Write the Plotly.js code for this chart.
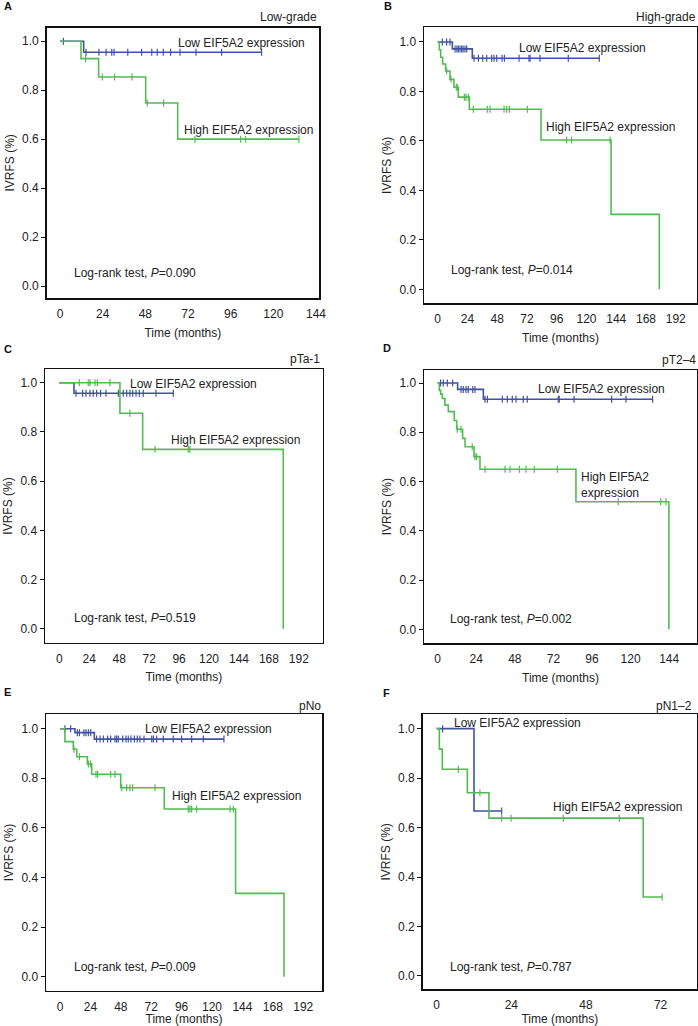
<!DOCTYPE html>
<html>
<head>
<meta charset="utf-8">
<script src="https://cdn.plot.ly/plotly-3.0.1.min.js"></script>
<style>html,body{margin:0;padding:0;background:#fff;}#chart{width:698px;height:1026px;}</style>
</head>
<body>
<div id="chart"></div>
<script>
// ---------- DATA ----------
// Panel A: Low-grade
const aLowTimes = [13.3];
const aLowSurv = [0.955];
const aLowCens = [1.9, 14.6, 21.9, 25.9, 29.1, 30.4, 38.1, 45.9, 51.6, 54.7, 58.1, 62.2, 67.5, 76.5, 90.9, 113.4];
const aHighTimes = [11.8, 21.7, 48.2, 66.2];
const aHighSurv = [0.929, 0.854, 0.748, 0.60];
const aHighCens = [14.4, 23.8, 30.7, 40.5, 49.1, 58.3, 75.9, 101.6, 104.4, 134.4];

// Panel B: High-grade
const bLowTimes = [11.8, 27.9];
const bLowSurv = [0.972, 0.934];
const bLowCens = [3.7, 7.2, 9.9, 14.0, 15.5, 16.6, 18.0, 19.3, 20.5, 22.0, 23.4, 29.3, 32.8, 36.3, 39.5, 43.5, 45.4, 47.6, 51.9, 53.8, 65.6, 73.6, 74.5, 82.5, 105.3, 130.3];
const bHighTimes = [1.3, 2.4, 4.0, 6.4, 9.9, 13.1, 16.6, 25.5, 83.3, 139.8, 178.7];
const bHighSurv = [0.968, 0.938, 0.911, 0.883, 0.849, 0.817, 0.777, 0.728, 0.604, 0.303, 0];
const bHighCens = [7.2, 10.7, 15.0, 15.8, 21.5, 22.8, 24.7, 28.7, 40.0, 42.2, 53.5, 55.6, 57.8, 72.3, 104.0, 108.0, 139.0];

// Panel C: pTa-1
const cLowTimes = [11.8];
const cLowSurv = [0.957];
const cLowCens = [13.4, 18.7, 21.4, 24.6, 27.2, 29.9, 33.1, 37.4, 47.3, 51.3, 54.0, 56.6, 58.8, 61.5, 64.1, 67.3, 77.5, 91.4];
const cHighTimes = [48.6, 66.8, 179.5];
const cHighSurv = [0.876, 0.729, 0];
const cHighCens = [16.0, 23.2, 24.6, 28.6, 30.5, 40.6, 56.6, 76.7, 103.4, 104.7];

// Panel D: pT2-4
const dLowTimes = [12.4, 28.4];
const dLowSurv = [0.974, 0.934];
const dLowCens = [1.8, 3.5, 6.0, 9.3, 14.5, 15.9, 17.6, 19.0, 21.8, 23.2, 29.4, 30.9, 40.2, 43.3, 46.4, 48.7, 53.2, 55.7, 75.0, 75.6, 84.8, 108.2, 117.1, 133.7];
const dHighTimes = [1.0, 1.8, 2.9, 4.5, 6.6, 10.3, 11.8, 15.5, 17.0, 22.6, 26.3, 86.0, 143.8];
const dHighSurv = [0.97, 0.955, 0.937, 0.91, 0.884, 0.848, 0.812, 0.775, 0.741, 0.701, 0.65, 0.518, 0];
const dHighCens = [12.2, 14.5, 21.5, 23.2, 24.2, 29.4, 41.9, 45.0, 50.8, 54.9, 60.1, 74.4, 112.3, 138.7, 142.0];

// Panel E: pNo
const eLowTimes = [11.8, 27.1];
const eLowSurv = [0.984, 0.958];
const eLowCens = [3.9, 8.4, 13.7, 15.3, 18.9, 20.5, 22.4, 24.2, 28.9, 31.6, 34.2, 37.6, 40.0, 43.4, 44.7, 46.0, 49.5, 52.1, 53.9, 56.0, 58.7, 61.0, 63.1, 66.3, 72.4, 73.7, 76.3, 81.5, 89.4, 96.0, 103.9, 113.1, 129.4];
const eHighTimes = [3.9, 10.5, 13.2, 21.6, 25.0, 47.9, 82.3, 138.6, 176.8];
const eHighSurv = [0.948, 0.917, 0.887, 0.858, 0.816, 0.762, 0.676, 0.336, 0];
const eHighCens = [11.0, 15.3, 22.4, 24.2, 28.4, 29.7, 40.0, 43.4, 48.7, 52.6, 55.2, 57.4, 75.0, 101.3, 102.6, 103.9, 107.9, 134.2, 136.8];

// Panel F: pN1-2
const fLowTimes = [12.0];
const fLowSurv = [0.667];
const fLowCens = [1.9, 20.9];
const fHighTimes = [0.85, 1.8, 9.85, 16.8, 66.4];
const fHighSurv = [0.917, 0.836, 0.741, 0.638, 0.319];
const fHighCens = [6.96, 13.9, 20.9, 23.9, 40.7, 58.7, 72.5];

// Tick labels
const yTicks = [0, 0.2, 0.4, 0.6, 0.8, 1.0];
const xTicks144 = [0, 24, 48, 72, 96, 120, 144];
const xTicks192 = [0, 24, 48, 72, 96, 120, 144, 168, 192];
const xTicksD = [0, 24, 48, 72, 96, 120, 144];
const xTicks72 = [0, 24, 48, 72];

const panelLetters = ['A', 'B', 'C', 'D', 'E', 'F'];
const panelTitles = ['Low-grade', 'High-grade', 'pTa-1', 'pT2\u20134', 'pNo', 'pN1\u20132'];
const pValues = ['0.090', '0.014', '0.519', '0.002', '0.009', '0.787'];
const lowLabel = 'Low EIF5A2 expression';
const highLabel = 'High EIF5A2 expression';
const xTitle = 'Time (months)';
const yTitle = 'IVRFS (%)';

// ---------- STYLE ----------
const W = 698, H = 1026;
const BLUE = '#4152a3';
const GREEN = '#52bb52';
const TXT = '#222222';
const FONT = '"Liberation Sans", Arial, sans-serif';
const px = x => x / W;
const py = y => 1 - y / H;

function survAt(times, surv, t) {
  let s = 1;
  for (let i = 0; i < times.length; i++) if (times[i] <= t) s = surv[i];
  return s;
}
function kmTraces(times, surv, cens, color, idx) {
  const xs = [0], ys = [1];
  for (let i = 0; i < times.length; i++) { xs.push(times[i]); ys.push(surv[i]); }
  const lastEvent = times[times.length - 1];
  const lastCens = Math.max(...cens);
  if (lastCens > lastEvent) { xs.push(lastCens); ys.push(surv[surv.length - 1]); }
  const ax = idx === 1 ? '' : String(idx);
  return [
    { x: xs, y: ys, mode: 'lines', type: 'scatter', xaxis: 'x' + ax, yaxis: 'y' + ax,
      line: { shape: 'hv', color: color, width: 1.6 }, hoverinfo: 'skip', showlegend: false },
    { x: cens, y: cens.map(t => survAt(times, surv, t)), mode: 'markers', type: 'scatter',
      xaxis: 'x' + ax, yaxis: 'y' + ax,
      marker: { symbol: 'line-ns', size: 5, color: color, line: { color: color, width: 1.2 } },
      hoverinfo: 'skip', showlegend: false }
  ];
}

const panels = [
  { low: [aLowTimes, aLowSurv, aLowCens], high: [aHighTimes, aHighSurv, aHighCens], xt: xTicks144,
    box: [46.7, 319, 27.7, 298], xr: [-7.5, 145.7], yr: [-0.049, 1.0555] },
  { low: [bLowTimes, bLowSurv, bLowCens], high: [bHighTimes, bHighSurv, bHighCens], xt: xTicks192,
    box: [424, 697, 27.3, 303.3], xr: [-11.05, 209.1], yr: [-0.0566, 1.0594] },
  { low: [cLowTimes, cLowSurv, cLowCens], high: [cHighTimes, cHighSurv, cHighCens], xt: xTicks192,
    box: [45, 322.7, 369.3, 642.7], xr: [-11.46, 211.1], yr: [-0.0569, 1.0545] },
  { low: [dLowTimes, dLowSurv, dLowCens], high: [dHighTimes, dHighSurv, dHighCens], xt: xTicksD,
    box: [424, 697, 370, 643.3], xr: [-8.52, 161.3], yr: [-0.0568, 1.0528] },
  { low: [eLowTimes, eLowSurv, eLowCens], high: [eHighTimes, eHighSurv, eHighCens], xt: xTicks192,
    box: [46, 322, 714.3, 990.7], xr: [-11.05, 206.8], yr: [-0.0565, 1.058] },
  { low: [fLowTimes, fLowSurv, fLowCens], high: [fHighTimes, fHighSurv, fHighCens], xt: xTicks72,
    box: [422.7, 697, 714.3, 989.3], xr: [-4.5, 83.7], yr: [-0.054, 1.058] }
];

// Label positions (px): [low x, low y, high x, high y, logrank x, logrank y, letter x, letter y, title right x, title y]
const labelPos = [
  [176.7, 42.7, 183, 130, 73.3, 272.7, 3, 6.5, 318.3, 16.7],
  [517.7, 48.3, 545, 126.7, 450, 270, 383, 6.5, 697, 16.7],
  [129.3, 384, 170, 440, 72.7, 618.3, 3, 348.5, 321, 359.5],
  [536.7, 389.3, 580, 485, 449.3, 619.3, 382, 348, 697, 360],
  [144.3, 728.7, 170.7, 796, 72.7, 967.3, 3, 692, 322, 706],
  [452.7, 722.7, 552.3, 806.7, 449.3, 967.3, 382, 692.5, 693.3, 706]
];

const traces = [];
const layout = {
  width: W, height: H,
  margin: { l: 0, r: 0, t: 0, b: 0 },
  paper_bgcolor: '#fff', plot_bgcolor: '#fff',
  font: { family: FONT, size: 12, color: TXT },
  showlegend: false,
  annotations: []
};

panels.forEach((p, i) => {
  const idx = i + 1;
  const ax = idx === 1 ? '' : String(idx);
  traces.push(...kmTraces(p.low[0], p.low[1], p.low[2], BLUE, idx));
  traces.push(...kmTraces(p.high[0], p.high[1], p.high[2], GREEN, idx));
  const [l, r, t, b] = p.box;
  layout['xaxis' + ax] = {
    domain: [px(l), px(r)], range: p.xr, anchor: 'y' + ax,
    tickmode: 'array', tickvals: p.xt, ticktext: p.xt.map(String),
    ticks: 'outside', ticklen: 4, tickcolor: 'rgba(0,0,0,0)',
    showline: true, mirror: true, linecolor: '#111', linewidth: 1.5,
    showgrid: false, zeroline: false, fixedrange: true,
    tickfont: { family: FONT, size: 12, color: TXT },
    title: { text: xTitle, font: { family: FONT, size: 12, color: TXT }, standoff: 8 }
  };
  layout['yaxis' + ax] = {
    domain: [py(b), py(t)], range: p.yr, anchor: 'x' + ax,
    tickmode: 'array', tickvals: yTicks, ticktext: yTicks.map(v => v.toFixed(1)),
    ticks: 'outside', ticklen: 4, tickwidth: 1, tickcolor: '#111',
    showline: true, mirror: true, linecolor: '#111', linewidth: 1.5,
    showgrid: false, zeroline: false, fixedrange: true,
    tickfont: { family: FONT, size: 12, color: TXT },
    title: { text: yTitle, font: { family: FONT, size: 12, color: TXT }, standoff: 5 }
  };
  const L = labelPos[i];
  const ann = (text, x, y, xa, extra) => Object.assign({
    text: text, xref: 'paper', yref: 'paper', x: px(x), y: py(y),
    xanchor: xa, yanchor: 'middle', showarrow: false, borderpad: 0,
    font: { family: FONT, size: 12, color: TXT }
  }, extra || {});
  layout.annotations.push(ann(lowLabel, L[0], L[1], 'left'));
  layout.annotations.push(ann(i === 3 ? 'High EIF5A2<br>expression' : highLabel, L[2], L[3], 'left', { align: 'left' }));
  layout.annotations.push(ann('Log-rank test, <i>P</i>=' + pValues[i], L[4], L[5], 'left'));
  layout.annotations.push(ann('<b>' + panelLetters[i] + '</b>', L[6], L[7], 'left', { font: { family: FONT, size: 11, color: '#111' } }));
  layout.annotations.push(ann(panelTitles[i], L[8], L[9], 'right'));
});

Plotly.newPlot('chart', traces, layout, { displayModeBar: false, staticPlot: true });
</script>
</body>
</html>
